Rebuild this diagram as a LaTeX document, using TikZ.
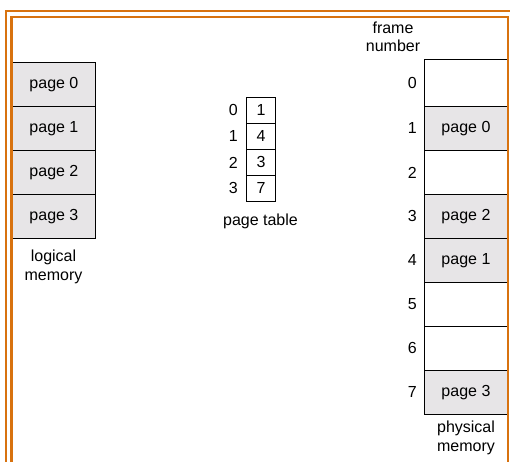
\documentclass[tikz,border=0pt]{standalone}
\usepackage{fontspec}
\setmainfont{Liberation Sans}
\usetikzlibrary{positioning}
\definecolor{frameorange}{HTML}{D8720F}
\definecolor{pagefill}{HTML}{E7E5E7}
\tikzset{
  txt/.style={font=\fontsize{16}{18.5}\selectfont,inner sep=0pt,align=center},
  cell/.style={txt,draw=black,line width=0.9pt,minimum width=83pt,
               minimum height=44pt,anchor=north west},
  usedcell/.style={cell,fill=pagefill},
  ptcell/.style={txt,draw=black,line width=0.9pt,minimum width=29pt,
                 minimum height=26pt,anchor=north west},
  idx/.style={txt,anchor=east},
  orangeline/.style={frameorange,line width=2.6pt},
}
\begin{document}
\begin{tikzpicture}[x=1pt,y=-1pt]
  \useasboundingbox (0,0) rectangle (510,461);
  \fill[white] (0,0) rectangle (510,461);

  % logical memory
  \node[usedcell] (lm0) at (12,62)  {page 0};
  \node[usedcell] (lm1) at (12,106) {page 1};
  \node[usedcell] (lm2) at (12,150) {page 2};
  \node[usedcell] (lm3) at (12,194) {page 3};
  \node[txt,anchor=north] (lmlabel) at (53.5,250) {logical\\memory};

  % page table
  \node[ptcell] (pt0) at (246,97)  {1};
  \node[ptcell] (pt1) at (246,123) {4};
  \node[ptcell] (pt2) at (246,149) {3};
  \node[ptcell] (pt3) at (246,175) {7};
  \foreach \i in {0,...,3}
    \node[idx] (ptidx\i) at ([xshift=-8pt]pt\i.west) {\i};
  \node[txt,anchor=north] (ptlabel) at (260.5,214) {page table};

  % physical memory
  \node[txt,anchor=south] (fnlabel) at (393,52) {frame\\number};
  \node[cell,minimum height=47pt] (pm0) at (424,59) {};
  \node[usedcell] (pm1) at (424,106) {page 0};
  \node[cell]     (pm2) at (424,150) {};
  \node[usedcell] (pm3) at (424,194) {page 2};
  \node[usedcell] (pm4) at (424,238) {page 1};
  \node[cell]     (pm5) at (424,282) {};
  \node[cell]     (pm6) at (424,326) {};
  \node[usedcell] (pm7) at (424,370) {page 3};
  \foreach \i in {0,...,7}
    \node[idx] (fn\i) at ([xshift=-7pt]pm\i.west) {\i};
  \node[txt,anchor=north] (pmlabel) at (466,421) {physical\\memory};

  % double orange frame
  \draw[orangeline] (6,470) -- (6,11) -- (520,11);
  \draw[orangeline] (11.5,470) -- (11.5,17) -- (508,17) -- (508,470);
\end{tikzpicture}
\end{document}
